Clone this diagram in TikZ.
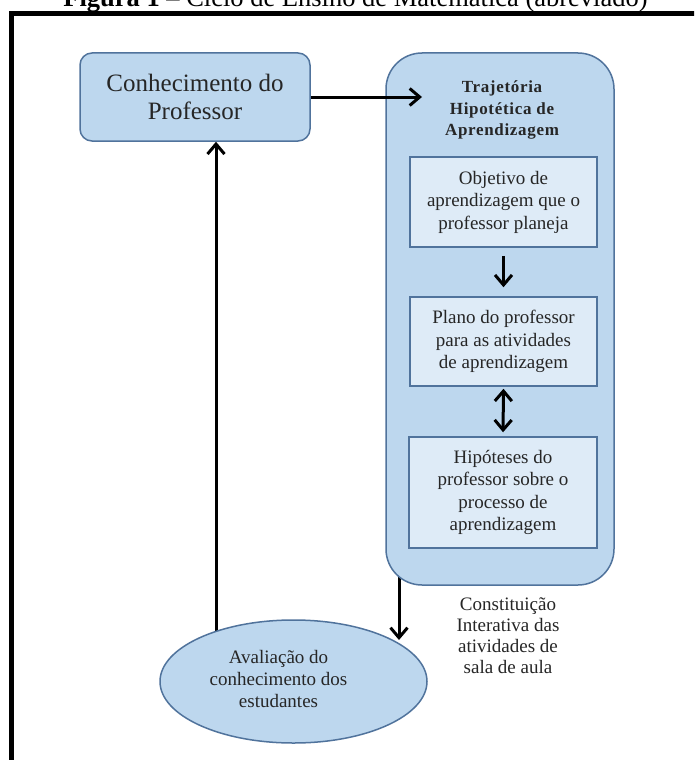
\documentclass[tikz,border=0pt]{standalone}
\usepackage{fontspec}
\setmainfont{Liberation Serif}
\usetikzlibrary{arrows.meta,shapes.geometric,calc}
\pgfdeclarelayer{background}
\pgfdeclarelayer{paper}
\pgfsetlayers{paper,background,main}
\definecolor{boxfill}{HTML}{BDD7EE}
\definecolor{boxline}{HTML}{50739C}
\definecolor{innerfill}{HTML}{DEEBF7}
\definecolor{txt}{HTML}{262626}
\begin{document}
\begin{tikzpicture}[x=1pt,y=-1pt,
  outerbox/.style={draw=boxline, fill=boxfill, line width=1.5pt, inner sep=0pt},
  innerbox/.style={draw=boxline, fill=innerfill, line width=1.5pt, inner sep=0pt,
    minimum width=187pt, align=center, text=txt, font=\fontsize{19}{22.5}\selectfont},
  plaintext/.style={align=center, text=txt, inner sep=0pt},
  arr/.style={-{Straight Barb[length=10pt,width=17pt]}, line width=3pt},
  darr/.style={{Straight Barb[length=10pt,width=17pt]}-{Straight Barb[length=10pt,width=17pt]}, line width=3pt}]
\clip (0,0) rectangle (694,760);
\begin{pgfonlayer}{paper}
\fill[white] (0,0) rectangle (694,760);
\end{pgfonlayer}
% caption (cut off at top)
\node[anchor=base, inner sep=0pt, font=\fontsize{26.5}{30}\selectfont] (cap) at (355.5,7)
  {\textbf{Figura 1} – Ciclo de Ensino de Matemática (abreviado)};
% frame
\draw[line width=4.6pt, line join=miter] (700,13.3) -- (11.6,13.3) -- (11.6,770);
% nodes
\node[outerbox, rounded corners=12pt, minimum width=230pt, minimum height=88pt,
  align=center, text=txt, font=\fontsize{25}{28}\selectfont] (prof) at (195,97)
  {Conhecimento do\\Professor};
\node[outerbox, rounded corners=36pt, minimum width=228pt, minimum height=532pt] (big) at (500,319) {};
\node[plaintext, font=\fontsize{17}{21.5}\bfseries\addfontfeatures{LetterSpace=4}] (thltitle) at (502,110)
  {Trajetória\\Hipotética de\\Aprendizagem};
\node[innerbox, minimum height=90pt] (obj) at (503.5,202)
  {Objetivo de\\aprendizagem que o\\professor planeja};
\node[innerbox, minimum height=89pt] (plano) at (503.5,341.5)
  {Plano do professor\\para as atividades\\de aprendizagem};
\node[innerbox, minimum height=111pt, minimum width=188pt] (hip) at (503,492.5)
  {Hipóteses do\\professor sobre o\\processo de\\aprendizagem};
\node[outerbox, ellipse, minimum width=267pt, minimum height=123pt, align=center, text=txt,
  font=\fontsize{19}{22}\selectfont] (ell) at (293.5,681.5)
  {\hspace*{-30pt}\begin{tabular}{@{}c@{}}Avaliação do\\conhecimento dos\\estudantes\end{tabular}};
\node[plaintext, font=\fontsize{19}{21}\selectfont] (const) at (508,636)
  {Constituição\\Interativa das\\atividades de\\sala de aula};
% connectors
\coordinate (tipA) at (422,97);
\coordinate (colL) at (216,0);
\coordinate (colD) at (399,640);
\draw[arr] (prof.east) -- (prof.east -| tipA);
\draw[arr, shorten <=8pt, shorten >=9pt] (obj.south) -- (plano.north);
\draw[darr, shorten <=2pt, shorten >=4pt] (plano.south) -- (hip.north);
\begin{pgfonlayer}{background}
\draw[arr] (ell.center -| colL) -- (prof.south -| colL);
\draw[arr] (big.center -| colD) -- (colD);
\end{pgfonlayer}
\end{tikzpicture}
\end{document}
